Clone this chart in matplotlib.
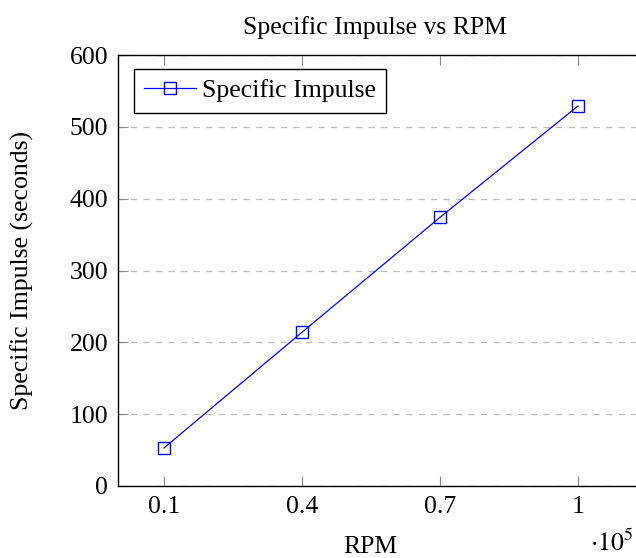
import matplotlib
matplotlib.use("Agg")
import matplotlib.pyplot as plt

# data
rpm = [10000, 40000, 70000, 100000]
specific_impulse = [53, 214, 374, 529]
x_ticks = [10000, 40000, 70000, 100000]
x_tick_labels = ["0.1", "0.4", "0.7", "1"]
y_ticks = [0, 100, 200, 300, 400, 500, 600]

plt.rcParams['font.family'] = ['Liberation Serif', 'DejaVu Serif']
plt.rcParams['mathtext.fontset'] = 'stix'
fs = 18.5

fig = plt.figure(figsize=(6.36, 5.58), dpi=100)
# axes run past the right edge of the picture, as in the reference
ax = fig.add_axes([118 / 636, 72 / 558, 552 / 636, 431 / 558])

ax.plot(rpm, specific_impulse, color='blue', linewidth=0.9, marker='s',
        markersize=8, markerfacecolor='none', markeredgecolor='blue',
        markeredgewidth=1.0, label="Specific Impulse")

ax.set_xlim(0, 120000)
ax.set_ylim(0, 600)
ax.set_xticks(x_ticks)
ax.set_xticklabels(x_tick_labels)
ax.set_yticks(y_ticks)

ax.yaxis.grid(True, linestyle=(0, (5, 5)), color='#bbbbbb', linewidth=0.9)
ax.set_axisbelow(True)

ax.tick_params(axis='both', direction='in', length=7.5, color='#888888',
               labelsize=fs, pad=7, top=True, right=False)
for side in ['left', 'bottom', 'top']:
    ax.spines[side].set_linewidth(1.0)
ax.spines['right'].set_visible(False)

fig.text(375 / 636, 1 - 28 / 558, "Specific Impulse vs RPM", fontsize=fs,
         ha='center', va='center')
ax.set_xlabel("RPM", fontsize=fs)
ax.xaxis.set_label_coords((370 - 118) / 552, -0.115)
ax.set_ylabel("Specific Impulse (seconds)", fontsize=fs)
ax.yaxis.set_label_coords(-(118 - 34) / 552, 0.5)
fig.text(612 / 636, 1 - 543 / 558, r'$\cdot 10^5$', fontsize=fs,
         ha='center', va='center')

leg = ax.legend(loc='upper left', fontsize=fs, fancybox=False,
                framealpha=1, edgecolor='black',
                bbox_to_anchor=(16 / 552, 1 - 14 / 431), borderaxespad=0,
                handlelength=2.0, handletextpad=0.25, borderpad=0.4)
leg.get_frame().set_linewidth(1.0)

fig.savefig("out.png", dpi=100)
